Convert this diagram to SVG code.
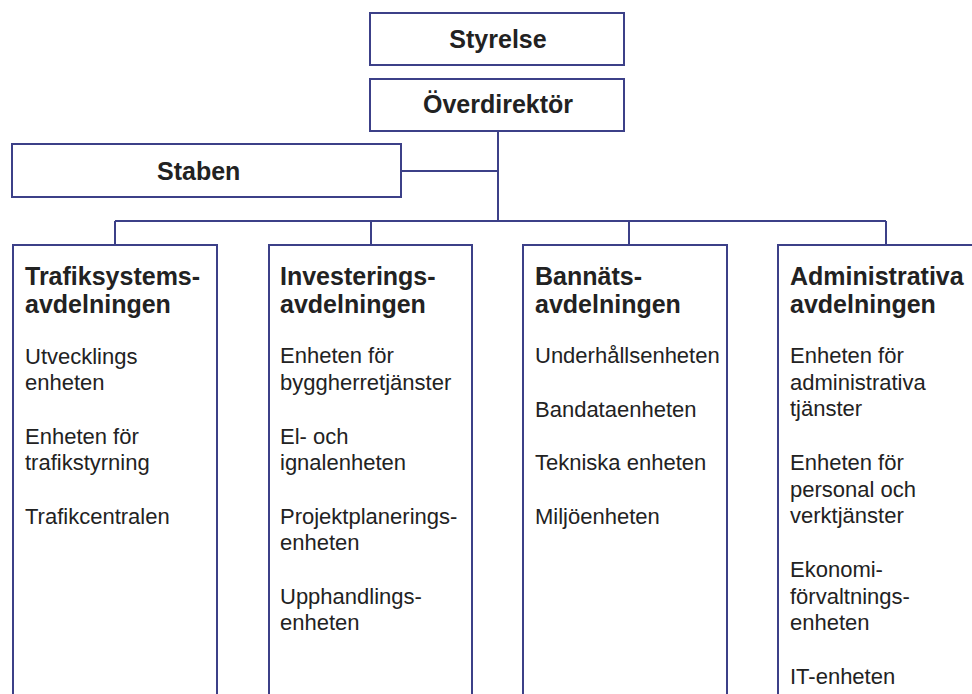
<svg xmlns="http://www.w3.org/2000/svg" width="972" height="694" viewBox="0 0 972 694">
<style>
.box{fill:#ffffff;stroke:#3c4088;stroke-width:2}
.ln{fill:none;stroke:#3c4088;stroke-width:2}
.h{font-family:"Liberation Sans",Arial,sans-serif;font-weight:bold;font-size:25px;fill:#222222}
.t{font-family:"Liberation Sans",Arial,sans-serif;font-size:22px;fill:#222222}
</style>
<rect width="972" height="694" fill="#ffffff"/>
<g id="connectors">
<path class="ln" d="M498 131 V221 M401 171 H498 M115 221 H886 M115 221 V245 M371 221 V245 M629 221 V245 M886 221 V245"/>
</g>
<g id="styrelse">
<rect class="box" x="370" y="13" width="254" height="52"/>
<text class="h" x="498" y="48" text-anchor="middle">Styrelse</text>
</g>
<g id="overdirektor">
<rect class="box" x="370" y="79" width="254" height="52"/>
<text class="h" x="498" y="113" text-anchor="middle">Överdirektör</text>
</g>
<g id="staben">
<rect class="box" x="12" y="144" width="389" height="53"/>
<text class="h" x="157" y="180">Staben</text>
</g>
<g id="trafiksystem">
<rect class="box" x="13" y="245" width="204" height="460"/>
<text class="h" x="25" y="285">Trafiksystems-</text>
<text class="h" x="25" y="313">avdelningen</text>
<text class="t" x="25" y="364">Utvecklings</text>
<text class="t" x="25" y="390">enheten</text>
<text class="t" x="25" y="444">Enheten för</text>
<text class="t" x="25" y="470">trafikstyrning</text>
<text class="t" x="25" y="524">Trafikcentralen</text>
</g>
<g id="investering">
<rect class="box" x="269" y="245" width="203" height="460"/>
<text class="h" x="280" y="285">Investerings-</text>
<text class="h" x="280" y="313">avdelningen</text>
<text class="t" x="280" y="363">Enheten för</text>
<text class="t" x="280" y="390">byggherretjänster</text>
<text class="t" x="280" y="444">El- och</text>
<text class="t" x="280" y="470">ignalenheten</text>
<text class="t" x="280" y="524">Projektplanerings-</text>
<text class="t" x="280" y="550">enheten</text>
<text class="t" x="280" y="604">Upphandlings-</text>
<text class="t" x="280" y="630">enheten</text>
</g>
<g id="bannat">
<rect class="box" x="523" y="245" width="204" height="460"/>
<text class="h" x="535" y="285">Bannäts-</text>
<text class="h" x="535" y="313">avdelningen</text>
<text class="t" x="535" y="363">Underhållsenheten</text>
<text class="t" x="535" y="417">Bandataenheten</text>
<text class="t" x="535" y="470">Tekniska enheten</text>
<text class="t" x="535" y="524">Miljöenheten</text>
</g>
<g id="administrativa">
<rect class="box" x="778" y="245" width="220" height="460"/>
<text class="h" x="790" y="285">Administrativa</text>
<text class="h" x="790" y="313">avdelningen</text>
<text class="t" x="790" y="363">Enheten för</text>
<text class="t" x="790" y="390">administrativa</text>
<text class="t" x="790" y="416">tjänster</text>
<text class="t" x="790" y="470">Enheten för</text>
<text class="t" x="790" y="497">personal och</text>
<text class="t" x="790" y="523">verktjänster</text>
<text class="t" x="790" y="577">Ekonomi-</text>
<text class="t" x="790" y="604">förvaltnings-</text>
<text class="t" x="790" y="630">enheten</text>
<text class="t" x="790" y="684">IT-enheten</text>
</g>
</svg>
